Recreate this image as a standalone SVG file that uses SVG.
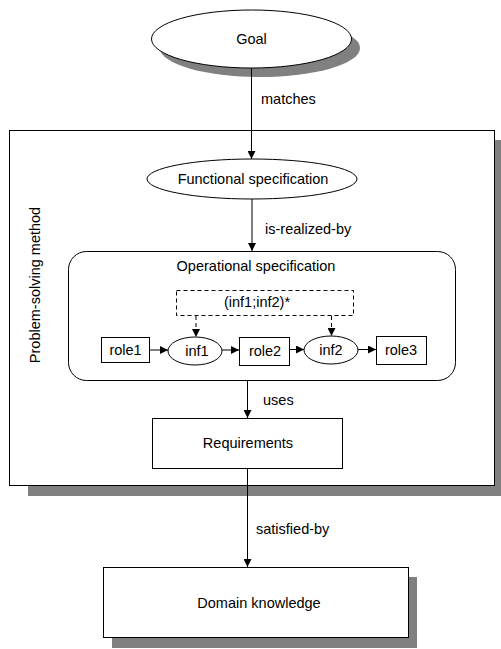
<svg xmlns="http://www.w3.org/2000/svg" width="501" height="649" viewBox="0 0 501 649">
<style>
text{font-family:"Liberation Sans",Arial,sans-serif;font-size:14.5px;fill:#000}
.c{text-anchor:middle}
.n{fill:#fff;stroke:#000;stroke-width:1}
.sh{fill:#808080;stroke:none}
.ln{stroke:#000;stroke-width:1;fill:none}
.dash{stroke:#000;stroke-width:1;fill:none;stroke-dasharray:4,3}
</style>
<defs>
<marker id="ah" viewBox="0 0 10 10" refX="10" refY="5" markerWidth="8" markerHeight="8" markerUnits="userSpaceOnUse" orient="auto">
<path d="M0,0 L10,5 L0,10 z" fill="#000"/>
</marker>
</defs>
<g id="psm">
<rect class="sh" x="28" y="140" width="473" height="356"/>
<rect class="n" x="9.5" y="130.5" width="485" height="355"/>
<text class="c" transform="translate(40,285) rotate(-90)">Problem-solving method</text>
</g>
<g id="goal">
<ellipse class="sh" cx="260" cy="48" rx="100" ry="29"/>
<ellipse class="n" cx="251.5" cy="39" rx="100" ry="29"/>
<text class="c" x="251.5" y="44">Goal</text>
</g>
<g id="functional">
<ellipse class="n" cx="252" cy="179" rx="105" ry="20"/>
<text class="c" x="253" y="184">Functional specification</text>
</g>
<g id="operational">
<rect class="n" x="68.5" y="251.5" width="387" height="129" rx="18" ry="18"/>
<text class="c" x="256" y="271">Operational specification</text>
</g>
<g id="loop">
<rect class="dash" x="176.5" y="290.5" width="177" height="25"/>
<text class="c" x="257" y="307">(inf1;inf2)*</text>
</g>
<g id="role1">
<rect class="n" x="101.5" y="337.5" width="48" height="25"/>
<text class="c" x="125.5" y="355">role1</text>
</g>
<g id="inf1">
<ellipse class="n" cx="195" cy="351" rx="27" ry="14"/>
<text class="c" x="197" y="356">inf1</text>
</g>
<g id="role2">
<rect class="n" x="239.5" y="337.5" width="50" height="28"/>
<text class="c" x="265" y="356">role2</text>
</g>
<g id="inf2">
<ellipse class="n" cx="331" cy="350" rx="27" ry="14"/>
<text class="c" x="331" y="355">inf2</text>
</g>
<g id="role3">
<rect class="n" x="376.5" y="336.5" width="50" height="28"/>
<text class="c" x="401" y="355">role3</text>
</g>
<g id="requirements">
<rect class="n" x="152.5" y="418.5" width="190" height="50"/>
<text class="c" x="248" y="448">Requirements</text>
</g>
<g id="domain">
<rect class="sh" x="112" y="577" width="305" height="71"/>
<rect class="n" x="103.5" y="567.5" width="305" height="70"/>
<text class="c" x="259" y="608">Domain knowledge</text>
</g>
<g id="connectors">
<line class="ln" x1="251.5" y1="68" x2="251.5" y2="159" marker-end="url(#ah)"/>
<text x="261" y="104">matches</text>
<line class="ln" x1="252" y1="199" x2="252" y2="251" marker-end="url(#ah)"/>
<text x="265" y="234">is-realized-by</text>
<line class="dash" x1="196" y1="316" x2="196" y2="337" marker-end="url(#ah)"/>
<line class="dash" x1="331.5" y1="316" x2="331.5" y2="336" marker-end="url(#ah)"/>
<line class="ln" x1="149.5" y1="350" x2="168" y2="350" marker-end="url(#ah)"/>
<line class="ln" x1="222" y1="350" x2="239" y2="350" marker-end="url(#ah)"/>
<line class="ln" x1="289.5" y1="349.5" x2="304" y2="349.5" marker-end="url(#ah)"/>
<line class="ln" x1="358" y1="349.5" x2="376" y2="349.5" marker-end="url(#ah)"/>
<line class="ln" x1="247.5" y1="380.5" x2="247.5" y2="418" marker-end="url(#ah)"/>
<text x="263" y="405">uses</text>
<line class="ln" x1="247.5" y1="468.5" x2="247.5" y2="567" marker-end="url(#ah)"/>
<text x="256" y="534">satisfied-by</text>
</g>
</svg>
